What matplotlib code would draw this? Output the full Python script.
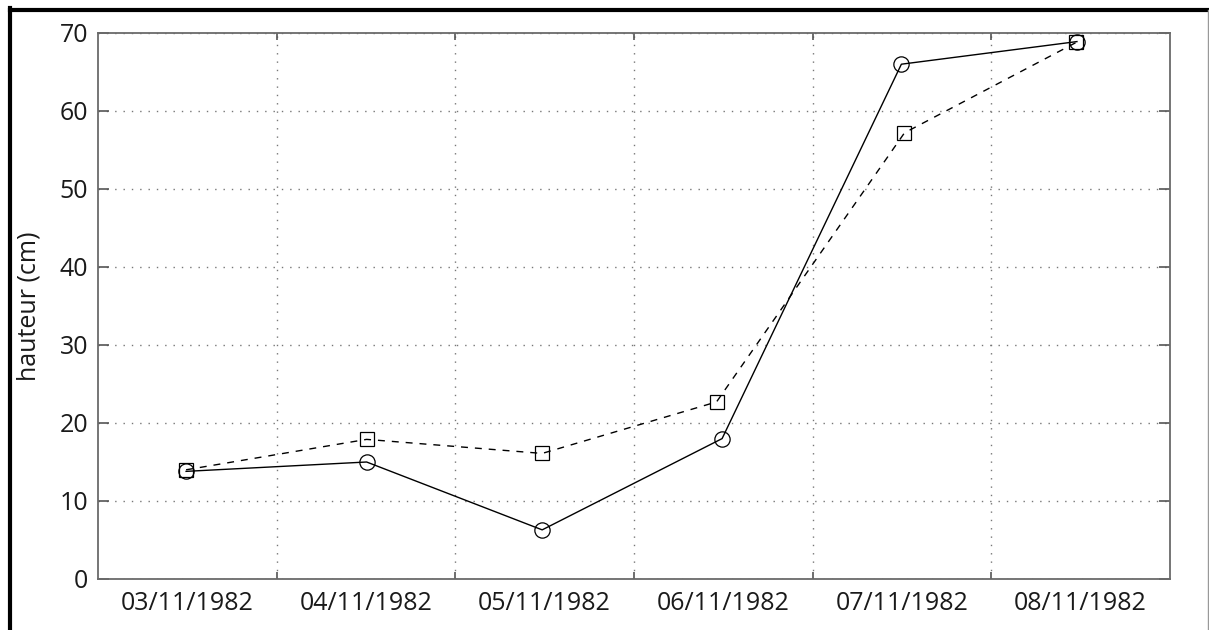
import matplotlib
matplotlib.use("Agg")
import matplotlib.pyplot as plt
from matplotlib.lines import Line2D
import pandas as pd

# Water height measurements (cm), two series
times_circle = ["1982-11-03 11:50", "1982-11-04 12:05", "1982-11-05 11:40",
                "1982-11-06 11:50", "1982-11-07 11:55", "1982-11-08 11:30"]
height_circle = [13.8, 15.0, 6.3, 18.0, 66.0, 68.9]

times_square = ["1982-11-03 11:50", "1982-11-04 12:05", "1982-11-05 11:40",
                "1982-11-06 11:05", "1982-11-07 12:20", "1982-11-08 11:25"]
height_square = [14.0, 17.9, 16.1, 22.7, 57.2, 68.8]

day_labels = ["03/11/1982", "04/11/1982", "05/11/1982",
              "06/11/1982", "07/11/1982", "08/11/1982"]
y_ticks = [0, 10, 20, 30, 40, 50, 60, 70]

plt.rcParams['font.family'] = ['Open Sans', 'DejaVu Sans']

fig = plt.figure(figsize=(12.09, 6.30), dpi=100)
ax = fig.add_axes([98 / 1209, 1 - 579 / 630, (1170 - 98) / 1209, (579 - 33) / 630])

tc = pd.to_datetime(times_circle)
ts = pd.to_datetime(times_square)

ax.plot(tc, height_circle, color='black', linewidth=1.0, linestyle='-',
        marker='o', markersize=11, markerfacecolor='none',
        markeredgecolor='black', markeredgewidth=0.9)
ax.plot(ts, height_square, color='black', linewidth=1.0, linestyle=(0, (5, 5)),
        marker='s', markersize=9.5, markerfacecolor='none',
        markeredgecolor='black', markeredgewidth=0.9)

start = pd.Timestamp("1982-11-03")
end = pd.Timestamp("1982-11-09")
ax.set_xlim(start, end)
ax.set_ylim(0, 70)

# Day boundaries carry the grid; labels sit at mid-day
boundaries = pd.date_range("1982-11-04", "1982-11-08", freq="D")
middays = pd.date_range("1982-11-03 12:00", "1982-11-08 12:00", freq="D")
ax.set_xticks(boundaries)
ax.set_xticklabels([])
ax.set_xticks(middays, minor=True)
ax.set_xticklabels(day_labels, minor=True)
ax.set_yticks(y_ticks)
ax.set_yticklabels([str(v) for v in y_ticks])

ax.tick_params(axis='x', which='major', direction='in', length=5, width=1.2,
               color='#555555', top=True, bottom=True)
ax.tick_params(axis='x', which='minor', length=0, pad=9, labelsize=18,
               labelcolor='#1a1a1a')
ax.tick_params(axis='y', which='major', direction='in', length=8, width=1.2,
               color='#555555', left=True, right=True, pad=7, labelsize=18,
               labelcolor='#1a1a1a')

ax.grid(True, which='major', color='#777777', linestyle=(0, (1, 5)), linewidth=1.0)

for sp in ax.spines.values():
    sp.set_color('#6a6a6a')
    sp.set_linewidth(1.3)

ax.set_ylabel("hauteur (cm)", fontsize=18, color='#1a1a1a', labelpad=13)

# Outer frame: heavy top and left edges, thin right edge
fig.add_artist(Line2D([9.5 / 1209, 1.0], [1 - 9.5 / 630, 1 - 9.5 / 630],
                      transform=fig.transFigure, color='black', linewidth=3))
fig.add_artist(Line2D([9.5 / 1209, 9.5 / 1209], [0.0, 1 - 8 / 630],
                      transform=fig.transFigure, color='black', linewidth=3))
fig.add_artist(Line2D([1207.5 / 1209, 1207.5 / 1209], [0.0, 1 - 9.5 / 630],
                      transform=fig.transFigure, color='#999999', linewidth=1))

fig.savefig("out.png", dpi=100)
